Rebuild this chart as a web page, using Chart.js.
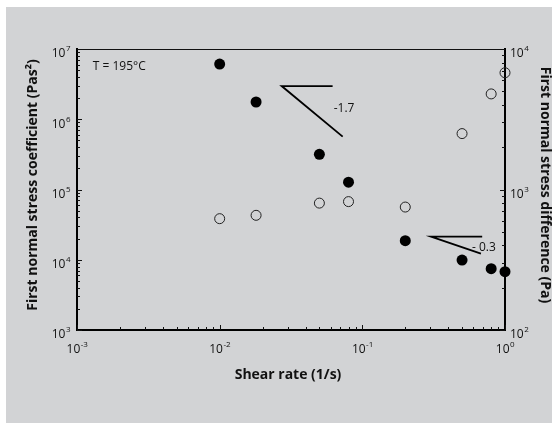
<!DOCTYPE html>
<html>
<head>
<meta charset="utf-8">
<script src="https://cdn.jsdelivr.net/npm/chart.js@4.4.1/dist/chart.umd.min.js"></script>
<style>
  html, body { margin: 0; padding: 0; background: #fff; }
  canvas { display: block; }
</style>
</head>
<body>
<canvas id="grafico" width="552" height="423"></canvas>
<script>
// data
const shearRate = [0.01, 0.018, 0.05, 0.08, 0.2, 0.5, 0.8, 1.0];
const coefPsi1 = [6.1e6, 1.76e6, 3.17e5, 1.27e5, 1.87e4, 9.9e3, 7.46e3, 6.77e3];   // filled, left axis
const diffN1 = [620, 655, 800, 820, 750, 2500, 4790, 6780];                        // open, right axis

// slope guides (x, y on left axis)
const slope1X = [0.0619, 0.0272, 0.0728];
const slope1Y = [2.97e6, 2.97e6, 5.65e5];
const slope2X = [0.692, 0.303, 0.678];
const slope2Y = [2.13e4, 2.13e4, 1.22e4];

const xTicks = [-3, -2, -1, 0];
const yTicks = [3, 4, 5, 6, 7];
const y2Ticks = [2, 3, 4];

const notes = [
  { text: 'T = 195°C', x: 0.00129, y: 5.7e6, align: 'left' },
  { text: '-1.7', x: 0.0745, y: 1.4e6, align: 'center' },
  { text: '- 0.3', x: 0.712, y: 1.49e4, align: 'center' }
];

const FONT = '"Open Sans", "DejaVu Sans", sans-serif';
const cinza = '#d2d3d5';

function pts(xs, ys) {
  return xs.map((x, i) => ({ x: x, y: ys[i] }));
}

// draws "10" with a raised exponent
function potencia(ctx, exp, x, y, align) {
  ctx.font = '12px ' + FONT;
  const wb = ctx.measureText('10').width;
  ctx.font = '8px ' + FONT;
  const we = ctx.measureText(exp).width;
  let x0 = x;
  if (align === 'center') x0 = x - (wb + we) / 2;
  if (align === 'right') x0 = x - (wb + we);
  ctx.textAlign = 'left';
  ctx.textBaseline = 'middle';
  ctx.font = '12px ' + FONT;
  ctx.fillText('10', x0, y);
  ctx.font = '8px ' + FONT;
  ctx.fillText(exp, x0 + wb + 0.5, y - 5);
}

function marcas(ctx, scale, lado, area) {
  const lo = Math.round(Math.log10(scale.min));
  const hi = Math.round(Math.log10(scale.max));
  for (let k = lo; k <= hi; k++) {
    for (let m = 1; m <= 9; m++) {
      const v = m * Math.pow(10, k);
      if (v < scale.min * 0.999 || v > scale.max * 1.001) continue;
      const p = Math.round(scale.getPixelForValue(v)) + 0.5;
      const len = m === 1 ? 5 : 3;
      ctx.beginPath();
      if (lado === 'left') { ctx.moveTo(area.left, p); ctx.lineTo(area.left + len, p); }
      if (lado === 'right') { ctx.moveTo(area.right, p); ctx.lineTo(area.right - len, p); }
      if (lado === 'bottom') { ctx.moveTo(p, area.bottom); ctx.lineTo(p, area.bottom - len); }
      ctx.stroke();
    }
  }
}

const decor = {
  id: 'decor',
  beforeDraw(chart) {
    const ctx = chart.ctx;
    ctx.save();
    ctx.fillStyle = '#fff';
    ctx.fillRect(0, 0, chart.width, chart.height);
    ctx.fillStyle = cinza;
    ctx.fillRect(6, 7, chart.width, chart.height);
    ctx.restore();
  },
  afterDraw(chart) {
    const ctx = chart.ctx;
    const a = chart.chartArea;
    const sx = chart.scales.x, sy = chart.scales.y, sy2 = chart.scales.y2;
    ctx.save();
    ctx.strokeStyle = '#111';
    ctx.lineWidth = 1;

    // top frame line
    ctx.beginPath();
    ctx.moveTo(a.left, a.top + 0.5);
    ctx.lineTo(a.right, a.top + 0.5);
    ctx.stroke();

    marcas(ctx, sy, 'left', a);
    marcas(ctx, sy2, 'right', a);
    marcas(ctx, sx, 'bottom', a);

    ctx.fillStyle = '#111';
    yTicks.forEach(k => potencia(ctx, String(k), a.left - 7, sy.getPixelForValue(Math.pow(10, k)) + 5, 'right'));
    y2Ticks.forEach(k => potencia(ctx, String(k), a.right + 5, sy2.getPixelForValue(Math.pow(10, k)) + 5, 'left'));
    xTicks.forEach(k => potencia(ctx, String(k), sx.getPixelForValue(Math.pow(10, k)), a.bottom + 20, 'center'));

    // notes
    ctx.font = '12px ' + FONT;
    ctx.textBaseline = 'middle';
    notes.forEach(n => {
      ctx.textAlign = n.align;
      ctx.fillText(n.text, sx.getPixelForValue(n.x), sy.getPixelForValue(n.y));
    });

    // axis titles
    ctx.font = 'bold 14px ' + FONT;
    ctx.textAlign = 'center';
    ctx.fillText('Shear rate (1/s)', 288, a.bottom + 45);

    ctx.save();
    ctx.translate(33, 185);
    ctx.rotate(-Math.PI / 2);
    ctx.fillText('First normal stress coefficient (Pas²)', 0, 0);
    ctx.restore();

    ctx.save();
    ctx.translate(545, 185);
    ctx.rotate(Math.PI / 2);
    ctx.fillText('First normal stress difference (Pa)', 0, 0);
    ctx.restore();

    ctx.restore();
  }
};

const ctx = document.getElementById('grafico').getContext('2d');

new Chart(ctx, {
  type: 'scatter',
  data: {
    datasets: [
      {
        data: pts(shearRate, coefPsi1),
        yAxisID: 'y',
        pointRadius: 5.5,
        pointBackgroundColor: '#000',
        pointBorderColor: '#000',
        pointBorderWidth: 0,
        clip: false
      },
      {
        data: pts(shearRate, diffN1),
        yAxisID: 'y2',
        pointRadius: 5,
        pointBackgroundColor: 'rgba(0,0,0,0)',
        pointBorderColor: '#222',
        pointBorderWidth: 1,
        clip: false
      },
      {
        data: pts(slope1X, slope1Y),
        yAxisID: 'y',
        showLine: true,
        pointRadius: 0,
        borderColor: '#000',
        borderWidth: 1.8
      },
      {
        data: pts(slope2X, slope2Y),
        yAxisID: 'y',
        showLine: true,
        pointRadius: 0,
        borderColor: '#000',
        borderWidth: 1.8
      }
    ]
  },
  options: {
    responsive: false,
    animation: false,
    devicePixelRatio: 1,
    layout: { padding: { top: 49, left: 0, right: 0, bottom: 0 } },
    plugins: { legend: { display: false }, tooltip: { enabled: false } },
    scales: {
      x: {
        type: 'logarithmic',
        min: 0.001, max: 1,
        grid: { display: false },
        border: { color: '#000', width: 2 },
        ticks: { display: false },
        afterFit: s => { s.height = 93; }
      },
      y: {
        type: 'logarithmic',
        position: 'left',
        min: 1e3, max: 1e7,
        grid: { display: false },
        border: { color: '#000', width: 2 },
        ticks: { display: false },
        afterFit: s => { s.width = 77; }
      },
      y2: {
        type: 'logarithmic',
        position: 'right',
        min: 1e2, max: 1e4,
        grid: { display: false },
        border: { color: '#000', width: 2 },
        ticks: { display: false },
        afterFit: s => { s.width = 47; }
      }
    }
  },
  plugins: [decor]
});
</script>
</body>
</html>
